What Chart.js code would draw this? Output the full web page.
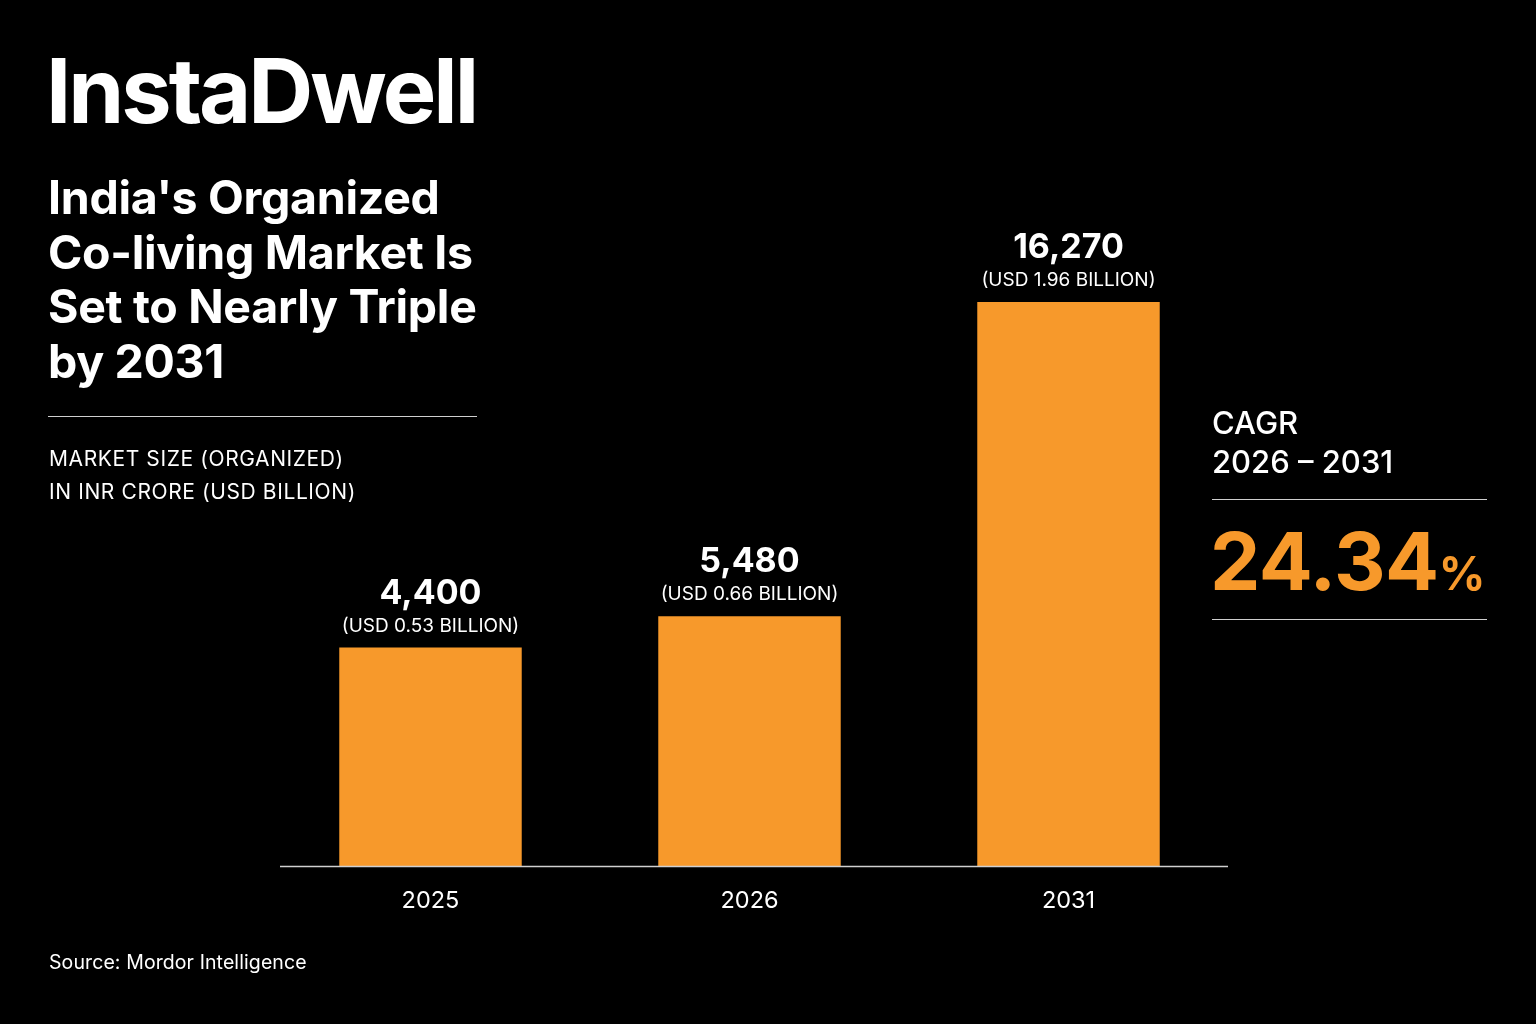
<!DOCTYPE html>
<html>
<head>
<meta charset="utf-8">
<script src="https://cdn.jsdelivr.net/npm/chart.js@4"></script>
<style>
  body { margin: 0; background: #000; width: 1536px; height: 1024px; overflow: hidden; font-family: Inter, "Noto Sans", sans-serif; color: #fff; }
  #wrap { position: absolute; left: 0; top: 0; width: 1536px; height: 1024px; }
  .t { position: absolute; white-space: nowrap; }
  .rule { position: absolute; height: 1px; background: #cfcfcf; }
</style>
</head>
<body>
<div id="wrap"><canvas id="myChart" width="1536" height="1024"></canvas></div>
<div class="t" style="left:46px;top:36px;font-size:90px;font-weight:700;letter-spacing:-3px;">InstaDwell</div>
<div class="t" style="left:48px;top:170px;font-size:46.5px;font-weight:700;line-height:54.5px;letter-spacing:-0.3px;">India's Organized<br>Co-living Market Is<br>Set to Nearly Triple<br>by 2031</div>
<div class="rule" style="left:48px;top:416px;width:429px;"></div>
<div class="t" style="left:49px;top:442px;font-size:21px;line-height:33px;letter-spacing:0.6px;">MARKET SIZE (ORGANIZED)<br>IN INR CRORE (USD BILLION)</div>
<div class="t" style="left:1212px;top:403px;font-size:31px;font-weight:500;line-height:39px;">CAGR<br>2026 – 2031</div>
<div class="rule" style="left:1212px;top:499px;width:275px;"></div>
<div class="t" style="left:1210px;top:512px;font-size:80px;font-weight:700;color:#F7992B;letter-spacing:-0.5px;">24.34<span style="font-size:46px;letter-spacing:0;">%</span></div>
<div class="rule" style="left:1212px;top:619px;width:275px;"></div>
<div class="t" style="left:49px;top:950px;font-size:19.5px;letter-spacing:0.1px;">Source: Mordor Intelligence</div>
<script>
const categories = ['2025', '2026', '2031'];
const inrCrore = [4400, 5480, 16270];
const usdLabels = ['(USD 0.53 BILLION)', '(USD 0.66 BILLION)', '(USD 1.96 BILLION)'];
const yMin = -3100;
const yMax = 19770;
const orange = '#F7992B';

const barLabels = {
  id: 'barLabels',
  afterDatasetsDraw(chart) {
    const { ctx, chartArea, scales } = chart;
    const meta = chart.getDatasetMeta(0);
    ctx.save();
    ctx.strokeStyle = '#d0d0d0';
    ctx.lineWidth = 1.5;
    ctx.beginPath();
    ctx.moveTo(280, chartArea.bottom + 0.5);
    ctx.lineTo(1228, chartArea.bottom + 0.5);
    ctx.stroke();
    ctx.fillStyle = '#fff';
    ctx.textAlign = 'center';
    meta.data.forEach((bar, i) => {
      ctx.font = '700 34px Inter, sans-serif';
      ctx.fillText(inrCrore[i].toLocaleString('en-US'), bar.x, bar.y - 44);
      ctx.font = '400 19px Inter, sans-serif';
      ctx.fillText(usdLabels[i], bar.x, bar.y - 16);
      ctx.font = '400 23.5px Inter, sans-serif';
      ctx.fillText(categories[i], scales.x.getPixelForValue(i), chartArea.bottom + 42);
    });
    ctx.restore();
  }
};

new Chart(document.getElementById('myChart').getContext('2d'), {
  type: 'bar',
  data: {
    labels: categories,
    datasets: [{
      data: inrCrore,
      base: yMin,
      backgroundColor: orange,
      borderWidth: 0,
      barPercentage: 0.572,
      categoryPercentage: 1
    }]
  },
  options: {
    responsive: false,
    animation: false,
    layout: { padding: { left: 271, right: 308, top: 200, bottom: 158 } },
    plugins: { legend: { display: false }, tooltip: { enabled: false } },
    scales: {
      x: { display: false },
      y: { display: false, min: yMin, max: yMax }
    }
  },
  plugins: [barLabels]
});
</script>
</body>
</html>
